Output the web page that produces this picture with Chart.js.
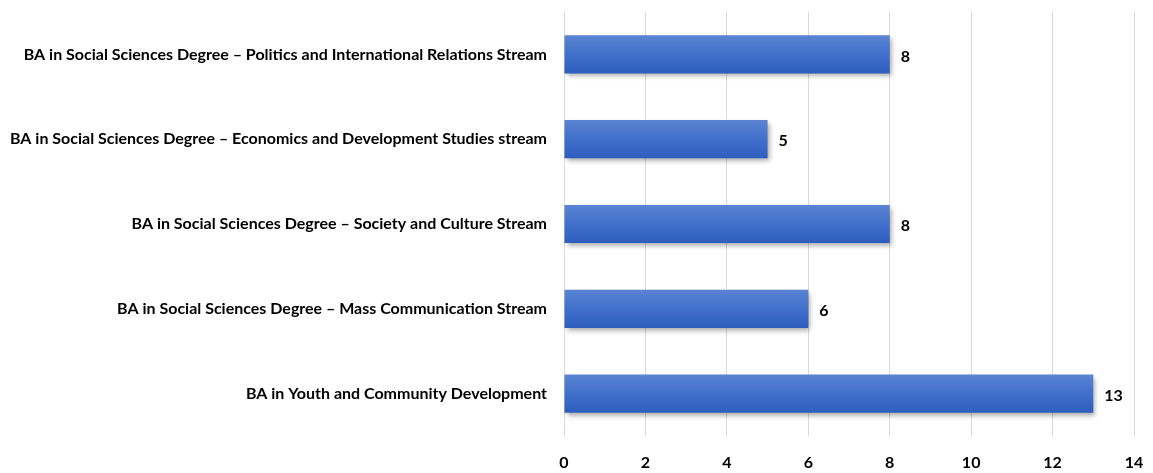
<!DOCTYPE html>
<html>
<head>
<meta charset="utf-8">
<script src="https://cdn.jsdelivr.net/npm/chart.js@4"></script>
<style>
  html, body { margin: 0; padding: 0; background: #fff; }
  #wrap { width: 1153px; height: 473px; }
</style>
</head>
<body>
<div id="wrap"><canvas id="chart" width="1153" height="473"></canvas></div>
<script>
// programmes, top to bottom
const programmes = [
  'BA in Social Sciences Degree \u2013 Politics and International Relations Stream',
  'BA in Social Sciences Degree \u2013 Economics and Development Studies stream',
  'BA in Social Sciences Degree \u2013 Society and Culture Stream',
  'BA in Social Sciences Degree \u2013 Mass Communication Stream',
  'BA in Youth and Community Development'
];
const counts = [8, 5, 8, 6, 13];
const xTicks = [0, 2, 4, 6, 8, 10, 12, 14];

const FONT = { family: 'Lato, "Open Sans", sans-serif', size: 16, weight: 'bold' };
const BAR_PCT = 0.45;

// bar fill: soft vertical gradient like the office chart
function barFill(ctx) {
  const chart = ctx.chart;
  const y = chart.scales && chart.scales.y;
  if (!y || !chart.chartArea || ctx.dataIndex === undefined) return '#4472c4';
  const cy = y.getPixelForValue(ctx.dataIndex);
  const h = (chart.chartArea.bottom - chart.chartArea.top) / programmes.length * BAR_PCT;
  const g = chart.ctx.createLinearGradient(0, cy - h / 2, 0, cy + h / 2);
  g.addColorStop(0, '#5b84d2');
  g.addColorStop(0.5, '#4070cb');
  g.addColorStop(1, '#2e5ebd');
  return g;
}

// shadow under the bars
const barShadow = {
  id: 'barShadow',
  beforeDatasetsDraw(chart) {
    const c = chart.ctx;
    c.save();
    c.shadowColor = 'rgba(0,0,0,0.35)';
    c.shadowBlur = 5;
    c.shadowOffsetX = 2;
    c.shadowOffsetY = 3;
  },
  afterDatasetsDraw(chart) {
    chart.ctx.restore();
  }
};

// value labels at the end of each bar
const valueLabels = {
  id: 'valueLabels',
  afterDatasetsDraw(chart) {
    const c = chart.ctx;
    const meta = chart.getDatasetMeta(0);
    c.save();
    c.font = `${FONT.weight} ${FONT.size}px ${FONT.family}`;
    c.fillStyle = '#000';
    c.textBaseline = 'middle';
    c.textAlign = 'left';
    meta.data.forEach((bar, i) => {
      c.fillText(String(counts[i]), bar.x + 11, bar.y + 2);
    });
    c.restore();
  }
};

new Chart(document.getElementById('chart'), {
  type: 'bar',
  data: {
    labels: programmes,
    datasets: [{
      data: counts,
      backgroundColor: barFill,
      borderWidth: 0,
      categoryPercentage: 1,
      barPercentage: BAR_PCT
    }]
  },
  options: {
    indexAxis: 'y',
    responsive: false,
    animation: false,
    layout: { padding: { top: 12, right: 19, bottom: 1, left: 0 } },
    plugins: {
      legend: { display: false },
      tooltip: { enabled: false }
    },
    scales: {
      x: {
        min: 0,
        max: 14,
        afterBuildTicks(axis) { axis.ticks = xTicks.map(v => ({ value: v })); },
        grid: { color: '#d9d9d9', lineWidth: 1, drawTicks: false },
        border: { display: false },
        ticks: { color: '#000', font: FONT, padding: 17 },
        afterFit(axis) {
          axis.height = 36;
          axis.paddingLeft = 0;
          axis.paddingRight = 0;
        }
      },
      y: {
        grid: { display: false, drawTicks: false },
        border: { display: false },
        ticks: { color: '#000', font: FONT, padding: 17, autoSkip: false },
        afterFit(axis) {
          axis.width = 564;
          axis.paddingTop = 0;
          axis.paddingBottom = 0;
        }
      }
    }
  },
  plugins: [barShadow, valueLabels]
});
</script>
</body>
</html>
